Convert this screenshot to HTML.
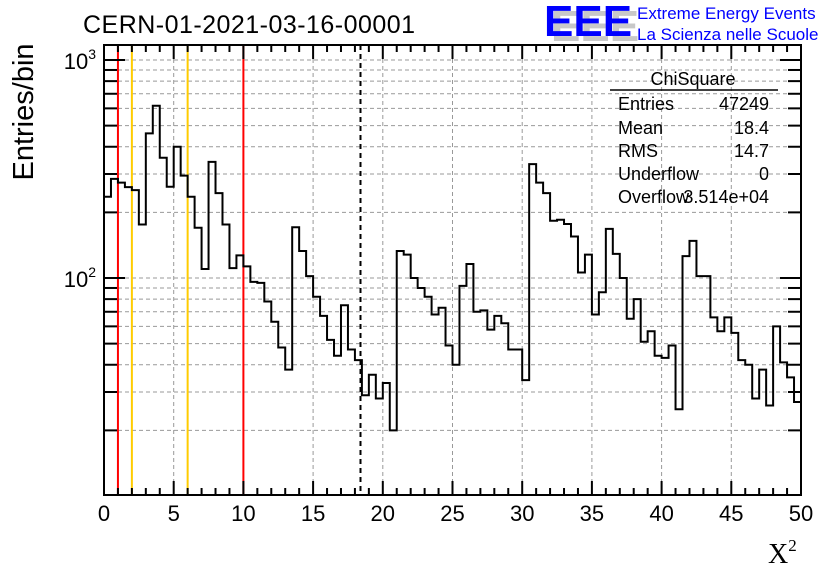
<!DOCTYPE html>
<html><head><meta charset="utf-8"><style>
body{margin:0;background:#fff;}
svg text{font-family:"Liberation Sans",sans-serif;}
</style></head><body>
<svg id="c" width="836" height="572" xmlns="http://www.w3.org/2000/svg">
<rect width="836" height="572" fill="#fff"/>
<g id="grid"></g>
<g id="marks"></g>
<g id="axes"></g>
<text x="83" y="33" font-size="25" textLength="332">CERN-01-2021-03-16-00001</text>
<g>
<text x="551" y="41" font-size="44" font-weight="bold" fill="#c8c8c8">EEE</text>
<text x="544" y="36" font-size="44" font-weight="bold" fill="#0000ff">EEE</text>
<text x="637" y="19" font-size="17" fill="#0000ff">Extreme Energy Events</text>
<text x="637" y="40" font-size="17" fill="#0000ff">La Scienza nelle Scuole</text>
</g>
<g font-size="18">
<text x="693" y="85" text-anchor="middle">ChiSquare</text>
<line x1="610" y1="90" x2="778" y2="90" stroke="#000" stroke-width="1.5"/>
<text x="618" y="110">Entries</text><text x="769" y="110" text-anchor="end">47249</text>
<text x="618" y="134">Mean</text><text x="769" y="134" text-anchor="end">18.4</text>
<text x="618" y="157">RMS</text><text x="769" y="157" text-anchor="end">14.7</text>
<text x="618" y="180">Underflow</text><text x="769" y="180" text-anchor="end">0</text>
<text x="618" y="203">Overflow</text><text x="769" y="203" text-anchor="end">3.514e+04</text>
</g>
<text transform="translate(33,112) rotate(-90)" font-size="29" text-anchor="middle">Entries/bin</text>
<text x="768" y="563" font-size="28" style="font-family:'Liberation Serif',serif">X<tspan font-size="17" dy="-12">2</tspan></text>
</svg>
<script>
const binCounts=[236,285,274,261,253,176,461,617,356,262,400,295,236,170,110,341,245,176,111,127,113,96,95,78,63,48,38,171,133,102,82,67,52,44,75,47,42,29,36,28,33,20,133,128,100,90,82,68,73,49,40,92,116,70,71,58,67,62,47,47,34,333,274,245,183,185,177,155,106,128,68,86,168,129,100,65,80,51,57,44,43,49,25,126,148,102,102,66,57,66,56,42,40,28,38,26,60,41,35,27];
const binWidth=0.5;
const xTicks=[0,5,10,15,20,25,30,35,40,45,50];
const yDecades=[100,1000];
const redLines=[1,10];
const orangeLines=[2,6];
const meanLine=[18.4];

const L=104,R=801,T=45,B=495;
const X=v=>L+(v-0)/50*(R-L);
const Y=v=>278-218*(Math.log10(v)-2);
const ns="http://www.w3.org/2000/svg";
function mk(tag,attrs,parent){const e=document.createElementNS(ns,tag);for(const k in attrs)e.setAttribute(k,attrs[k]);parent.appendChild(e);return e;}
const grid=document.getElementById('grid'),marks=document.getElementById('marks'),axes=document.getElementById('axes');
const yMinor=[];for(let d=10;d<=1000;d*=10)for(let m=1;m<10;m++){const v=d*m;if(Y(v)>=T&&Y(v)<=B)yMinor.push(v);}
yMinor.forEach(v=>{const l=mk('line',{x1:L,x2:R,y1:Y(v),y2:Y(v),stroke:'#999','stroke-dasharray':'4,3','stroke-width':1},grid);

});
xTicks.slice(1,-1).forEach(v=>{const l=mk('line',{x1:X(v),x2:X(v),y1:T,y2:B,stroke:'#999','stroke-dasharray':'4,3','stroke-width':1},grid);

});
redLines.forEach(v=>{const l=mk('line',{x1:X(v),x2:X(v),y1:T,y2:B,stroke:'#ff0000','stroke-width':2},marks);

});
orangeLines.forEach(v=>{const l=mk('line',{x1:X(v),x2:X(v),y1:T,y2:B,stroke:'#ffcc00','stroke-width':2},marks);

});
meanLine.forEach(v=>{const l=mk('line',{x1:X(v),x2:X(v),y1:T,y2:B,stroke:'#000','stroke-width':2,'stroke-dasharray':'5,4'},marks);

});
let d='';binCounts.forEach((c,i)=>{const x0=X(i*binWidth),x1=X((i+1)*binWidth),y=Y(c);d+=(i===0?'M'+x0+','+y:'L'+x0+','+y)+'L'+x1+','+y;});
const h=mk('path',{d:d,fill:'none',stroke:'#000','stroke-width':2},marks);


const f=mk('rect',{x:L,y:T,width:R-L,height:B-T,fill:'none',stroke:'#000','stroke-width':2},axes);


for(let v=0;v<=50;v++){const maj=v%5===0,len=maj?14:7;
mk('line',{x1:X(v),x2:X(v),y1:B,y2:B-len,stroke:'#000','stroke-width':2},axes);
mk('line',{x1:X(v),x2:X(v),y1:T,y2:T+len,stroke:'#000','stroke-width':2},axes);}
xTicks.forEach(v=>{const t=mk('text',{x:X(v),y:521,'font-size':22,'text-anchor':'middle'},axes);t.textContent=v;

});
yMinor.forEach(v=>{const maj=yDecades.includes(v),len=maj?21:13;
mk('line',{x1:L,x2:L+len,y1:Y(v),y2:Y(v),stroke:'#000','stroke-width':2},axes);
mk('line',{x1:R,x2:R-len,y1:Y(v),y2:Y(v),stroke:'#000','stroke-width':2},axes);});
yDecades.forEach(v=>{const t=mk('text',{x:96,y:Y(v)+9,'font-size':22,'text-anchor':'end'},axes);
t.innerHTML='10<tspan font-size="14" dy="-10">'+Math.round(Math.log10(v))+'</tspan>';

});
</script>
</body></html>
